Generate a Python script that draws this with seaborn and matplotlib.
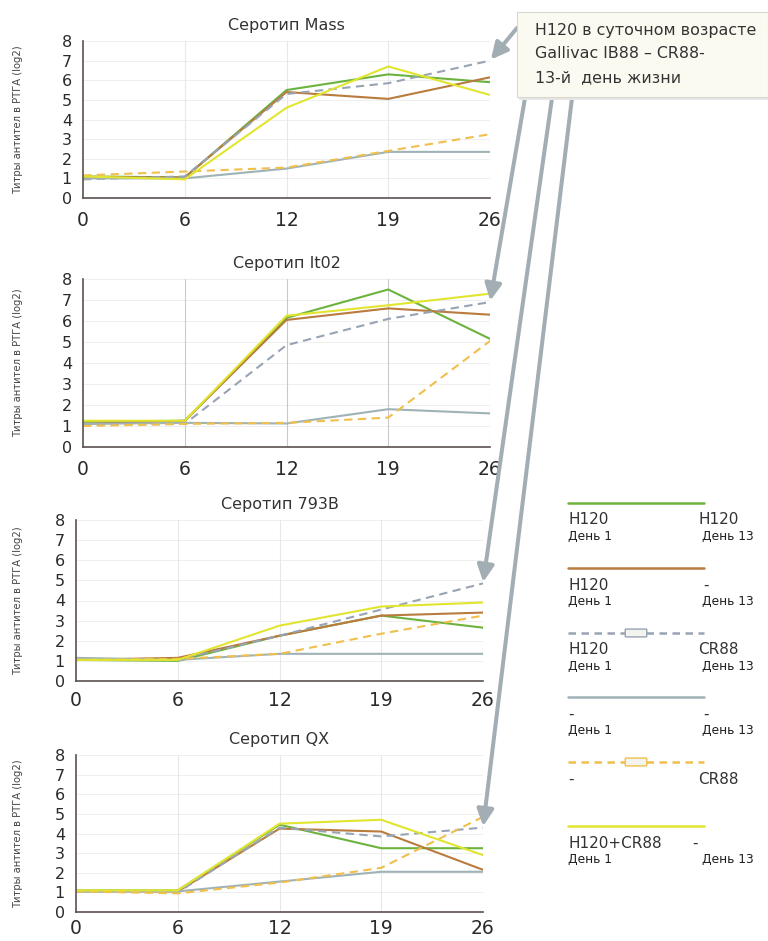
import numpy as np
import pandas as pd
import matplotlib
matplotlib.use("Agg")
import matplotlib.pyplot as plt
from matplotlib.lines import Line2D
from matplotlib.patches import FancyBboxPatch, Rectangle
from matplotlib.transforms import blended_transform_factory
import seaborn as sns

# x axis: days of life
days = ['0', '6', '12', '19', '26']

series = ['H120/H120', 'H120/-', 'H120/CR88', '-/-', '-/CR88', 'H120+CR88/-']

# Серотип Mass
mass_h120_h120 = [1.1, 1.05, 5.5, 6.3, 5.9]
mass_h120_none = [1.05, 1.05, 5.4, 5.05, 6.15]
mass_h120_cr88 = [0.95, 1.1, 5.3, 5.85, 7.0]
mass_none_none = [1.0, 1.0, 1.5, 2.35, 2.35]
mass_none_cr88 = [1.15, 1.35, 1.55, 2.4, 3.25]
mass_mix_none = [1.1, 0.95, 4.6, 6.7, 5.25]

# Серотип It02
it02_h120_h120 = [1.2, 1.25, 6.15, 7.5, 5.15]
it02_h120_none = [1.1, 1.25, 6.05, 6.6, 6.3]
it02_h120_cr88 = [1.05, 1.1, 4.85, 6.1, 6.9]
it02_none_none = [1.1, 1.15, 1.12, 1.8, 1.6]
it02_none_cr88 = [1.0, 1.1, 1.15, 1.4, 5.05]
it02_mix_none = [1.25, 1.25, 6.25, 6.75, 7.3]

# Серотип 793B
b793_h120_h120 = [1.05, 1.0, 2.25, 3.25, 2.65]
b793_h120_none = [1.05, 1.15, 2.25, 3.25, 3.4]
b793_h120_cr88 = [1.1, 1.05, 2.25, 3.55, 4.85]
b793_none_none = [1.15, 1.05, 1.35, 1.35, 1.35]
b793_none_cr88 = [1.05, 1.1, 1.35, 2.35, 3.25]
b793_mix_none = [1.05, 1.05, 2.75, 3.7, 3.9]

# Серотип QX
qx_h120_h120 = [1.1, 1.1, 4.45, 3.25, 3.25]
qx_h120_none = [1.05, 1.05, 4.25, 4.1, 2.15]
qx_h120_cr88 = [1.05, 1.0, 4.3, 3.85, 4.3]
qx_none_none = [1.05, 1.05, 1.55, 2.05, 2.05]
qx_none_cr88 = [1.05, 0.95, 1.5, 2.25, 4.85]
qx_mix_none = [1.1, 1.1, 4.5, 4.7, 2.9]

panels = [
    ('Серотип Mass', [mass_h120_h120, mass_h120_none, mass_h120_cr88,
                      mass_none_none, mass_none_cr88, mass_mix_none]),
    ('Серотип It02', [it02_h120_h120, it02_h120_none, it02_h120_cr88,
                      it02_none_none, it02_none_cr88, it02_mix_none]),
    ('Серотип 793B', [b793_h120_h120, b793_h120_none, b793_h120_cr88,
                      b793_none_none, b793_none_cr88, b793_mix_none]),
    ('Серотип QX', [qx_h120_h120, qx_h120_none, qx_h120_cr88,
                    qx_none_none, qx_none_cr88, qx_mix_none]),
]

colors = {
    'H120/H120': '#6cb33e',
    'H120/-': '#b97b3e',
    'H120/CR88': '#98a3b4',
    '-/-': '#9fb2b6',
    '-/CR88': '#f0bf4c',
    'H120+CR88/-': '#e2e52e',
}
dashes = {
    'H120/H120': '',
    'H120/-': '',
    'H120/CR88': (4, 2.6),
    '-/-': '',
    '-/CR88': (4, 2.6),
    'H120+CR88/-': '',
}

sns.set_style("white")
plt.rcParams['font.family'] = ['DejaVu Sans']

W, H = 768, 941
fig = plt.figure(figsize=(W / 100, H / 100), dpi=100)


def fx(x):
    return x / W


def fy(y):
    return 1 - y / H


# axes boxes in pixels: left, right, y of 0, y of 8
boxes = [(83, 490, 198, 41), (83, 490, 447, 279), (76, 483, 681, 520), (76, 483, 912, 755)]
# x tick length / pad per panel
xtick_len = [0, 0, 3, 3]
xtick_pad = [9.5, 9.5, 4.5, 2.2]

axes = []
for i, ((title, vals), (l, r, y0, y8)) in enumerate(zip(panels, boxes)):
    ax = fig.add_axes([fx(l), fy(y0), (r - l) / W, (y0 - y8) / H])
    rows = []
    for name, v in zip(series, vals):
        for d, t in zip(days, v):
            rows.append({'day': d, 'titer': t, 'series': name})
    df = pd.DataFrame(rows)
    sns.lineplot(data=df, x='day', y='titer', hue='series', style='series',
                 palette=colors, dashes=dashes, sort=False, legend=False,
                 linewidth=1.5, ax=ax)
    ax.set_xlim(0, len(days) - 1)
    ax.set_ylim(0, 8)
    ax.set_yticks(range(9))
    ax.set_xticks(range(len(days)))
    ax.set_xticklabels(days)
    ax.tick_params(axis='x', labelsize=13.5, length=xtick_len[i], width=1,
                   color='#5e5050', direction='out', pad=xtick_pad[i])
    ax.tick_params(axis='y', labelsize=11.5, length=6, width=1,
                   color='#5e5050', direction='out', pad=2)
    for lab in ax.get_xticklabels() + ax.get_yticklabels():
        lab.set_color('#2a2a2a')
    vcol = '#c9c9c9' if i == 1 else '#e8e8e8'
    for k in range(1, 9):
        ax.axhline(k, color='#ededed', lw=0.6, zorder=0)
    for k in range(1, len(days)):
        ax.axvline(k, color=vcol, lw=0.8, zorder=0)
    for s in ['top', 'right']:
        ax.spines[s].set_visible(False)
    for s in ['left', 'bottom']:
        ax.spines[s].set_color('#5e5050')
        ax.spines[s].set_linewidth(1.2)
    ax.set_xlabel('')
    ax.set_ylabel('Титры антител в РТГА (log2)', fontsize=7.2, color='#444444')
    ax.yaxis.set_label_coords(fx(23), 0.5,
                              transform=blended_transform_factory(fig.transFigure, ax.transAxes))
    ax.set_title(title, fontsize=11.5, color='#333333', pad=8)
    axes.append(ax)

# note box
box = FancyBboxPatch((fx(517), fy(97)), fx(768) - fx(517), fy(12) - fy(97),
                     boxstyle='square,pad=0', transform=fig.transFigure,
                     facecolor='#fafaf0', edgecolor='#d8d8d0', lw=0.8, zorder=5)
shadow = Rectangle((fx(519), fy(100)), fx(768) - fx(517), fy(12) - fy(97),
                   transform=fig.transFigure, facecolor='#e6e6e6',
                   edgecolor='none', zorder=4)
fig.patches.extend([shadow, box])
note_lines = ['H120 в суточном возрасте', 'Gallivac IB88 – CR88-', '13-й  день жизни']
for k, t in enumerate(note_lines):
    fig.text(fx(535), fy(30 + k * 24), t, fontsize=11.4, color='#333333',
             va='center', ha='left', zorder=6)

# arrows from the note box to the H120/CR88 line at day 26
arrow_starts = [(517, 28), (525, 98), (552, 98), (572, 98)]
for ax, (title, vals), (sx, sy) in zip(axes, panels, arrow_starts):
    ax.annotate('', xy=(len(days) - 1, vals[2][-1]), xycoords='data',
                xytext=(fx(sx), fy(sy)), textcoords='figure fraction',
                arrowprops=dict(arrowstyle='-|>,head_length=1.0,head_width=0.5',
                                color='#a2aeb4', lw=2.9, shrinkA=0, shrinkB=1),
                annotation_clip=False, zorder=3)

# legend
leg_line_y = [503, 568, 633, 697, 762, 826]
leg_left = [('H120', 'День 1'), ('H120', 'День 1'), ('H120', 'День 1'),
            ('-', 'День 1'), ('-', ''), ('H120+CR88', 'День 1')]
leg_right = [('H120', 'День 13'), ('-', 'День 13'), ('CR88', 'День 13'),
             ('-', 'День 13'), ('CR88', ''), ('-', 'День 13')]
for name, ly, (l1, l2), (r1, r2) in zip(series, leg_line_y, leg_left, leg_right):
    ls = '-' if dashes[name] == '' else (0, (3, 2.2))
    fig.add_artist(Line2D([fx(568), fx(704)], [fy(ly), fy(ly)], color=colors[name],
                          lw=1.8, linestyle=ls, transform=fig.transFigure))
    if dashes[name] != '':
        fig.patches.append(FancyBboxPatch((fx(626), fy(ly + 3)), fx(20), fy(0) - fy(6),
                                          boxstyle='round,pad=0.001',
                                          transform=fig.transFigure,
                                          facecolor='#f4f4ee', edgecolor=colors[name],
                                          lw=1.0, zorder=3))
    fig.text(fx(568), fy(ly + 17), l1, fontsize=11, color='#333333', va='center')
    rx = 698 if r1 != '-' else 703
    if name == 'H120+CR88/-':
        rx = 692
    fig.text(fx(rx), fy(ly + 17), r1, fontsize=11, color='#333333', va='center')
    if l2:
        fig.text(fx(568), fy(ly + 33), l2, fontsize=8.8, color='#1e1e1e', va='center')
    if r2:
        fig.text(fx(702), fy(ly + 33), r2, fontsize=8.8, color='#1e1e1e', va='center')

fig.savefig('out.png', dpi=100, facecolor='white')
